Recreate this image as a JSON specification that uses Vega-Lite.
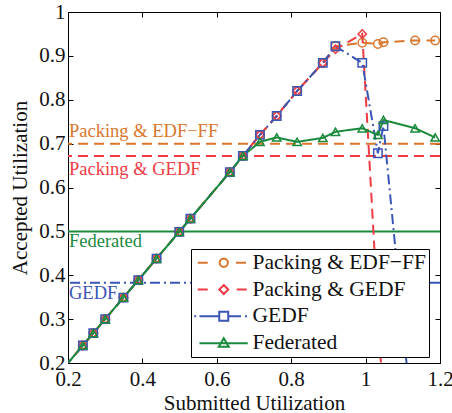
{
  "$schema": "https://vega.github.io/schema/vega-lite/v6.json",
  "autosize": {"type": "none"},
  "padding": {"left": 68, "top": 12, "right": 12, "bottom": 50},
  "width": 372,
  "height": 351,
  "config": {
    "font": "Liberation Serif",
    "view": {"stroke": "black", "strokeWidth": 1},
    "axis": {
      "labelFont": "Liberation Serif", "labelFontSize": 21, "labelColor": "#111", "labelFlush": false,
      "titleFont": "Liberation Serif", "titleFontSize": 21, "titleFontWeight": "normal", "titleColor": "#111",
      "domainColor": "black", "tickColor": "black", "grid": false, "tickSize": -5
    },
    "legend": {
      "labelFont": "Liberation Serif", "labelFontSize": 21.5, "labelColor": "#111"
    }
  },
  "datasets": {
    "main": [
      {"series": "Packing & EDF−FF", "x": 0.19, "y": 0.19},
      {"series": "Packing & EDF−FF", "x": 0.24, "y": 0.24},
      {"series": "Packing & EDF−FF", "x": 0.268, "y": 0.268},
      {"series": "Packing & EDF−FF", "x": 0.3, "y": 0.3},
      {"series": "Packing & EDF−FF", "x": 0.349, "y": 0.349},
      {"series": "Packing & EDF−FF", "x": 0.389, "y": 0.389},
      {"series": "Packing & EDF−FF", "x": 0.438, "y": 0.438},
      {"series": "Packing & EDF−FF", "x": 0.499, "y": 0.499},
      {"series": "Packing & EDF−FF", "x": 0.529, "y": 0.529},
      {"series": "Packing & EDF−FF", "x": 0.635, "y": 0.635},
      {"series": "Packing & EDF−FF", "x": 0.67, "y": 0.672},
      {"series": "Packing & EDF−FF", "x": 0.716, "y": 0.72},
      {"series": "Packing & EDF−FF", "x": 0.761, "y": 0.763},
      {"series": "Packing & EDF−FF", "x": 0.816, "y": 0.82},
      {"series": "Packing & EDF−FF", "x": 0.885, "y": 0.884},
      {"series": "Packing & EDF−FF", "x": 0.919, "y": 0.922},
      {"series": "Packing & EDF−FF", "x": 0.991, "y": 0.93},
      {"series": "Packing & EDF−FF", "x": 1.033, "y": 0.927},
      {"series": "Packing & EDF−FF", "x": 1.048, "y": 0.931},
      {"series": "Packing & EDF−FF", "x": 1.133, "y": 0.935},
      {"series": "Packing & EDF−FF", "x": 1.187, "y": 0.935},
      {"series": "Packing & GEDF", "x": 0.19, "y": 0.19},
      {"series": "Packing & GEDF", "x": 0.24, "y": 0.24},
      {"series": "Packing & GEDF", "x": 0.268, "y": 0.268},
      {"series": "Packing & GEDF", "x": 0.3, "y": 0.3},
      {"series": "Packing & GEDF", "x": 0.349, "y": 0.349},
      {"series": "Packing & GEDF", "x": 0.389, "y": 0.389},
      {"series": "Packing & GEDF", "x": 0.438, "y": 0.438},
      {"series": "Packing & GEDF", "x": 0.499, "y": 0.499},
      {"series": "Packing & GEDF", "x": 0.529, "y": 0.529},
      {"series": "Packing & GEDF", "x": 0.635, "y": 0.635},
      {"series": "Packing & GEDF", "x": 0.67, "y": 0.672},
      {"series": "Packing & GEDF", "x": 0.716, "y": 0.72},
      {"series": "Packing & GEDF", "x": 0.761, "y": 0.763},
      {"series": "Packing & GEDF", "x": 0.816, "y": 0.82},
      {"series": "Packing & GEDF", "x": 0.885, "y": 0.884},
      {"series": "Packing & GEDF", "x": 0.919, "y": 0.915},
      {"series": "Packing & GEDF", "x": 0.991, "y": 0.95},
      {"series": "Packing & GEDF", "x": 1.033, "y": 0.32},
      {"series": "Packing & GEDF", "x": 1.048, "y": 0.1},
      {"series": "GEDF", "x": 0.19, "y": 0.19},
      {"series": "GEDF", "x": 0.24, "y": 0.24},
      {"series": "GEDF", "x": 0.268, "y": 0.268},
      {"series": "GEDF", "x": 0.3, "y": 0.3},
      {"series": "GEDF", "x": 0.349, "y": 0.349},
      {"series": "GEDF", "x": 0.389, "y": 0.389},
      {"series": "GEDF", "x": 0.438, "y": 0.438},
      {"series": "GEDF", "x": 0.499, "y": 0.499},
      {"series": "GEDF", "x": 0.529, "y": 0.529},
      {"series": "GEDF", "x": 0.635, "y": 0.635},
      {"series": "GEDF", "x": 0.67, "y": 0.672},
      {"series": "GEDF", "x": 0.716, "y": 0.72},
      {"series": "GEDF", "x": 0.761, "y": 0.763},
      {"series": "GEDF", "x": 0.816, "y": 0.82},
      {"series": "GEDF", "x": 0.885, "y": 0.884},
      {"series": "GEDF", "x": 0.919, "y": 0.922},
      {"series": "GEDF", "x": 0.991, "y": 0.884},
      {"series": "GEDF", "x": 1.033, "y": 0.678},
      {"series": "GEDF", "x": 1.048, "y": 0.74},
      {"series": "GEDF", "x": 1.133, "y": 0.0},
      {"series": "Federated", "x": 0.19, "y": 0.19},
      {"series": "Federated", "x": 0.24, "y": 0.24},
      {"series": "Federated", "x": 0.268, "y": 0.268},
      {"series": "Federated", "x": 0.3, "y": 0.3},
      {"series": "Federated", "x": 0.349, "y": 0.349},
      {"series": "Federated", "x": 0.389, "y": 0.389},
      {"series": "Federated", "x": 0.438, "y": 0.438},
      {"series": "Federated", "x": 0.499, "y": 0.499},
      {"series": "Federated", "x": 0.529, "y": 0.529},
      {"series": "Federated", "x": 0.635, "y": 0.635},
      {"series": "Federated", "x": 0.67, "y": 0.672},
      {"series": "Federated", "x": 0.716, "y": 0.704},
      {"series": "Federated", "x": 0.761, "y": 0.714},
      {"series": "Federated", "x": 0.816, "y": 0.704},
      {"series": "Federated", "x": 0.885, "y": 0.713},
      {"series": "Federated", "x": 0.919, "y": 0.727},
      {"series": "Federated", "x": 0.991, "y": 0.735},
      {"series": "Federated", "x": 1.033, "y": 0.72},
      {"series": "Federated", "x": 1.048, "y": 0.754},
      {"series": "Federated", "x": 1.133, "y": 0.735},
      {"series": "Federated", "x": 1.187, "y": 0.714}
    ],
    "refs": [
      {"series": "Packing & EDF−FF", "value": 0.7},
      {"series": "Packing & GEDF", "value": 0.672},
      {"series": "GEDF", "value": 0.383},
      {"series": "Federated", "value": 0.5}
    ]
  },
  "resolve": {"scale": {"shape": "independent", "stroke": "independent"}, "axis": {"x": "independent", "y": "independent"}},
  "layer": [
    {
      "data": {"name": "refs"},
      "mark": {"type": "rule", "strokeWidth": 2},
      "encoding": {
        "y": {"field": "value", "type": "quantitative", "scale": {"domain": [0.2, 1], "zero": false}, "axis": null},
        "color": {"field": "series", "type": "nominal", "legend": null,
          "scale": {"domain": ["Packing & EDF−FF", "Packing & GEDF", "GEDF", "Federated"], "range": ["#D9772E", "#EE3B44", "#3A56B5", "#1A8A3C"]}},
        "strokeDash": {"field": "series", "type": "nominal", "legend": null,
          "scale": {"domain": ["Packing & EDF−FF", "Packing & GEDF", "GEDF", "Federated"], "range": [[10, 6], [10, 6], [10, 4, 2, 4], [1, 0]]}}
      }
    },
    {
      "data": {"name": "refs"},
      "transform": [{"filter": "datum.series === 'Packing & EDF−FF'"}],
      "mark": {"type": "text", "align": "left", "baseline": "alphabetic", "dx": 1, "dy": -7, "fontSize": 18.5, "font": "Liberation Serif"},
      "encoding": {
        "x": {"datum": 0.2, "type": "quantitative", "scale": {"domain": [0.2, 1.2], "zero": false}, "axis": null},
        "y": {"field": "value", "type": "quantitative", "axis": null},
        "text": {"field": "series"},
        "color": {"field": "series", "type": "nominal", "legend": null}
      }
    },
    {
      "data": {"name": "refs"},
      "transform": [{"filter": "datum.series === 'Packing & GEDF'"}],
      "mark": {"type": "text", "align": "left", "baseline": "alphabetic", "dx": 1, "dy": 19, "fontSize": 18.5, "font": "Liberation Serif"},
      "encoding": {
        "x": {"datum": 0.2, "type": "quantitative", "scale": {"domain": [0.2, 1.2], "zero": false}, "axis": null},
        "y": {"field": "value", "type": "quantitative", "axis": null},
        "text": {"field": "series"},
        "color": {"field": "series", "type": "nominal", "legend": null}
      }
    },
    {
      "data": {"name": "refs"},
      "transform": [{"filter": "datum.series === 'GEDF' || datum.series === 'Federated'"}],
      "mark": {"type": "text", "align": "left", "baseline": "alphabetic", "dx": 1, "dy": 16, "fontSize": 18.5, "font": "Liberation Serif"},
      "encoding": {
        "x": {"datum": 0.2, "type": "quantitative", "scale": {"domain": [0.2, 1.2], "zero": false}, "axis": null},
        "y": {"field": "value", "type": "quantitative", "axis": null},
        "text": {"field": "series"},
        "color": {"field": "series", "type": "nominal", "legend": null}
      }
    },
    {
      "data": {"name": "main"},
      "mark": {"type": "line", "strokeWidth": 2, "clip": true},
      "encoding": {
        "x": {"field": "x", "type": "quantitative", "scale": {"domain": [0.2, 1.2], "zero": false},
          "axis": {"orient": "bottom", "values": [0.2, 0.4, 0.6, 0.8, 1, 1.2], "format": "~g", "title": "Submitted Utilization", "labelPadding": 10, "titlePadding": 3}},
        "y": {"field": "y", "type": "quantitative", "scale": {"domain": [0.2, 1], "zero": false},
          "axis": {"orient": "left", "values": [0.2, 0.3, 0.4, 0.5, 0.6, 0.7, 0.8, 0.9, 1], "format": "~g", "title": "Accepted Utilization", "labelPadding": 8, "titlePadding": 8}},
        "color": {"field": "series", "type": "nominal", "legend": null},
        "strokeDash": {"field": "series", "type": "nominal", "legend": null}
      }
    },
    {
      "data": {"name": "main"},
      "mark": {"type": "point", "filled": false, "strokeWidth": 1.5, "size": 70, "clip": true, "opacity": 1},
      "encoding": {
        "x": {"field": "x", "type": "quantitative", "scale": {"domain": [0.2, 1.2], "zero": false},
          "axis": {"orient": "top", "values": [0.2, 0.4, 0.6, 0.8, 1, 1.2], "labels": false, "title": null, "domain": false}},
        "y": {"field": "y", "type": "quantitative", "scale": {"domain": [0.2, 1], "zero": false},
          "axis": {"orient": "right", "values": [0.2, 0.3, 0.4, 0.5, 0.6, 0.7, 0.8, 0.9, 1], "labels": false, "title": null, "domain": false}},
        "color": {"field": "series", "type": "nominal", "legend": null},
        "shape": {"field": "series", "type": "nominal", "legend": null,
          "scale": {"domain": ["Packing & EDF−FF", "Packing & GEDF", "GEDF", "Federated"], "range": ["circle", "diamond", "square", "triangle-up"]}}
      }
    },
    {
      "data": {"name": "main"},
      "transform": [{"filter": "datum.x > 5"}],
      "mark": {"type": "point", "filled": false, "opacity": 1},
      "encoding": {
        "stroke": {"field": "series", "type": "nominal",
          "scale": {"domain": ["Packing & EDF−FF", "Packing & GEDF", "GEDF", "Federated"], "range": ["#D9772E", "#EE3B44", "#3A56B5", "#1A8A3C"]},
          "legend": {"title": null, "orient": "none", "legendX": 123, "legendY": 237, "padding": 3, "symbolOffset": 19, "labelOffset": 18,
            "symbolSize": 361, "symbolStrokeWidth": 2, "rowPadding": 3.8, "labelFont": "Liberation Serif", "labelFontSize": 21.5, "labelColor": "#111",
            "strokeColor": "black", "fillColor": "white", "labelLimit": 400}},
        "shape": {"field": "series", "type": "nominal",
          "scale": {"domain": ["Packing & EDF−FF", "Packing & GEDF", "GEDF", "Federated"],
            "range": [
              "M-2.737,0H-1.684M1.295,0H2.347M0.442,0L0.383,0.221L0.221,0.383L0,0.442L-0.221,0.383L-0.383,0.221L-0.442,0L-0.383,-0.221L-0.221,-0.383L0,-0.442L0.221,-0.383L0.383,-0.221Z",
              "M-2.737,0H-1.684M1.368,0H2.421M0,-0.474L0.474,0L0,0.474L-0.474,0Z",
              "M-3.1,0H-2.9M-2.558,0H-0.474M0.474,0H1.821M2.242,0H2.453M-0.474,-0.474H0.474V0.474H-0.474Z",
              "M-2.558,0H2.526M0,-0.526L0.526,0.368L-0.526,0.368Z"
            ]},
          "legend": {"title": null, "orient": "none", "legendX": 123, "legendY": 237, "padding": 3, "symbolOffset": 19, "labelOffset": 18,
            "symbolSize": 361, "symbolStrokeWidth": 2, "rowPadding": 3.8, "labelFont": "Liberation Serif", "labelFontSize": 21.5, "labelColor": "#111",
            "strokeColor": "black", "fillColor": "white", "labelLimit": 400}}
      }
    }
  ]
}
